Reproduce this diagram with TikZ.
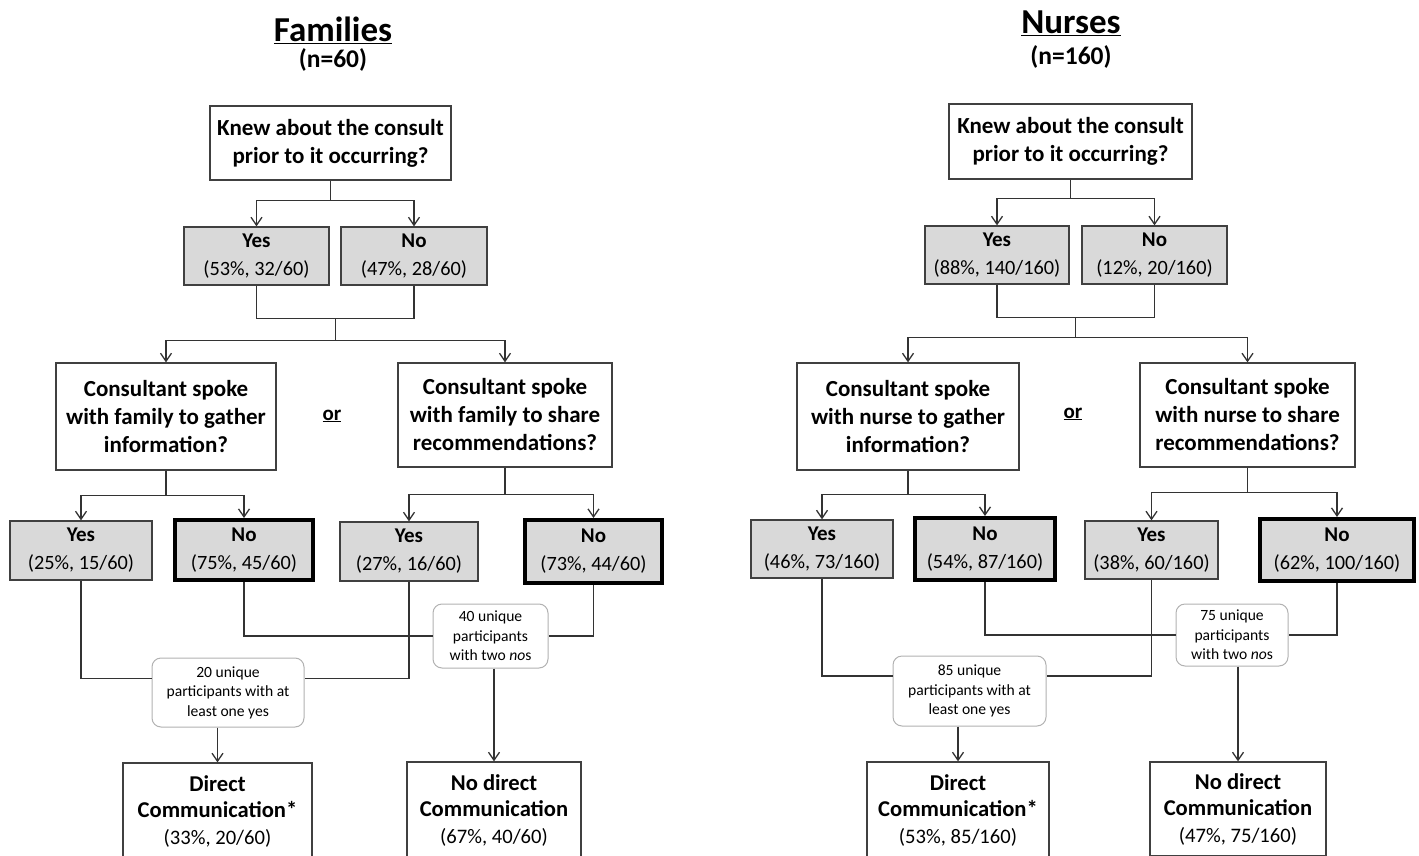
\documentclass[tikz,border=0pt]{standalone}
\usepackage{fontspec}
\setmainfont{Carlito}
\usetikzlibrary{positioning,arrows.meta,calc}

\newcommand{\ans}[2]{{\bfseries\fontsize{21}{24}\selectfont #1}\\[4pt](#2)}
\newcommand{\outtxt}[1]{\textbf{\fontsize{22.6}{26.5}\selectfont #1}}

\tikzset{
  box/.style={draw=black!75, line width=1.3pt, align=center, inner sep=2pt},
  qbox/.style={box, fill=white, font=\fontsize{23}{28}\selectfont\bfseries},
  ansbox/.style={box, fill=black!15, font=\fontsize{20.3}{24}\selectfont},
  nobox/.style={ansbox, draw=black, line width=4pt},
  sumbox/.style={draw=black!30, line width=1pt, rounded corners=9pt, fill=white, align=center, font=\fontsize{15.6}{19.5}\selectfont},
  outbox/.style={box, fill=white, font=\fontsize{20.6}{26.5}\selectfont},
  head/.style={font=\fontsize{35}{38}\selectfont\bfseries},
  subhead/.style={font=\fontsize{25.5}{28}\selectfont\bfseries},
  link/.style={draw=black!80, line width=1.3pt},
  arr/.style={link, -{Straight Barb[length=8pt,width=11pt]}},
}

\begin{document}
\begin{tikzpicture}[x=1pt, y=-1pt]

\useasboundingbox (0,0) rectangle (1419,856);
\clip (0,0) rectangle (1419,856);

% families
\node[head] (titleF) at (333,30) {\underline{Families}};
\node[subhead] (nF) at (333,60) {(n=60)};

\node[qbox, minimum width=241pt, minimum height=74pt] (knewF) at (330.5,143) {Knew about the consult\\prior to it occurring?};
\node[ansbox, minimum width=145pt, minimum height=58pt] (yesF) at (256.5,256) {\ans{Yes}{53\%, 32/60}};
\node[ansbox, minimum width=146pt, minimum height=58pt] (noF) at (414,256) {\ans{No}{47\%, 28/60}};

\node[qbox, minimum width=220pt, minimum height=107pt] (gatherF) at (166,416.5) {Consultant spoke\\with family to gather\\information?};
\node[qbox, minimum width=214pt, minimum height=104pt] (shareF) at (505,415) {Consultant spoke\\with family to share\\recommendations?};
\node[font=\fontsize{21}{24}\selectfont\bfseries] (orF) at (332,416) {\underline{or}};

\node[ansbox, minimum width=142pt, minimum height=59pt] (yes1F) at (81,550.5) {\ans{Yes}{25\%, 15/60}};
\node[nobox, minimum width=138pt, minimum height=60pt] (no1F) at (244,550) {\ans{No}{75\%, 45/60}};
\node[ansbox, minimum width=138pt, minimum height=59pt] (yes2F) at (409,551.5) {\ans{Yes}{27\%, 16/60}};
\node[nobox, minimum width=137pt, minimum height=63pt] (no2F) at (593.5,551.5) {\ans{No}{73\%, 44/60}};

\node[sumbox, minimum width=152pt, minimum height=69pt] (oneyesF) at (228,692.5) {20 unique\\participants with at\\least one yes};
\node[sumbox, minimum width=115pt, minimum height=64pt] (twonosF) at (490.5,636) {40 unique\\participants\\with two \textit{no}s};

\node[outbox, minimum width=189pt, minimum height=96pt] (directF) at (217.5,811) {\outtxt{Direct}\\\outtxt{Communication*}\\(33\%, 20/60)};
\node[outbox, minimum width=174pt, minimum height=96pt] (nodirectF) at (494,810) {\outtxt{No direct}\\\outtxt{Communication}\\(67\%, 40/60)};

\draw[arr] (knewF.south) -- ++(0,20) -| (yesF.north);
\draw[arr] (knewF.south) -- ++(0,20) -| (noF.north);
\draw[link] (yesF.south) -- ++(0,33) -| (noF.south);
\coordinate (jF) at ($(yesF.south)!.5!(noF.south)+(0,33)$);
\draw[arr] (jF) -- ++(0,22) -| (gatherF.north);
\draw[arr] (jF) -- ++(0,22) -| (shareF.north);
\draw[arr] (gatherF.south) -- ++(0,25) -| (yes1F.north);
\draw[arr] (gatherF.south) -- ++(0,25) -| (no1F.north);
\draw[arr] (shareF.south) -- ++(0,27) -| (yes2F.north);
\draw[arr] (shareF.south) -- ++(0,27) -| (no2F.north);
\draw[link] (no1F.south) |- (twonosF.west);
\draw[link] (no2F.south) |- (twonosF.east);
\draw[link] (yes1F.south) |- ([yshift=14pt]oneyesF.west);
\draw[link] (yes2F.south) |- ([yshift=14pt]oneyesF.east);
\draw[arr] (oneyesF.south -| directF.north) -- (directF.north);
\draw[arr] (twonosF.south -| nodirectF.north) -- (nodirectF.north);

% nurses
\node[head] (titleN) at (1071,23) {\underline{Nurses}};
\node[subhead] (nN) at (1071,57) {(n=160)};

\node[qbox, minimum width=243pt, minimum height=75pt] (knewN) at (1070.5,141.5) {Knew about the consult\\prior to it occurring?};
\node[ansbox, minimum width=144pt, minimum height=58pt] (yesN) at (997,255) {\ans{Yes}{88\%, 140/160}};
\node[ansbox, minimum width=145pt, minimum height=58pt] (noN) at (1154.5,255) {\ans{No}{12\%, 20/160}};

\node[qbox, minimum width=222pt, minimum height=107pt] (gatherN) at (908,416.5) {Consultant spoke\\with nurse to gather\\information?};
\node[qbox, minimum width=215pt, minimum height=104pt] (shareN) at (1247.5,415) {Consultant spoke\\with nurse to share\\recommendations?};
\node[font=\fontsize{21}{24}\selectfont\bfseries] (orN) at (1073,414) {\underline{or}};

\node[ansbox, minimum width=142pt, minimum height=58pt] (yes1N) at (822,549) {\ans{Yes}{46\%, 73/160}};
\node[nobox, minimum width=140pt, minimum height=62pt] (no1N) at (985,549) {\ans{No}{54\%, 87/160}};
\node[ansbox, minimum width=133pt, minimum height=58pt] (yes2N) at (1151.5,550) {\ans{Yes}{38\%, 60/160}};
\node[nobox, minimum width=154pt, minimum height=62pt] (no2N) at (1337,550) {\ans{No}{62\%, 100/160}};

\node[sumbox, minimum width=153pt, minimum height=70pt] (oneyesN) at (969.5,691) {85 unique\\participants with at\\least one yes};
\node[sumbox, minimum width=112pt, minimum height=62pt] (twonosN) at (1232,635) {75 unique\\participants\\with two \textit{no}s};

\node[outbox, minimum width=182pt, minimum height=96pt] (directN) at (958,810) {\outtxt{Direct}\\\outtxt{Communication*}\\(53\%, 85/160)};
\node[outbox, minimum width=176pt, minimum height=94pt] (nodirectN) at (1238,809) {\outtxt{No direct}\\\outtxt{Communication}\\(47\%, 75/160)};

\draw[arr] (knewN.south) -- ++(0,19) -| (yesN.north);
\draw[arr] (knewN.south) -- ++(0,19) -| (noN.north);
\draw[link] (yesN.south) -- ++(0,33) -| (noN.south);
\coordinate (jN) at ($(yesN.south)!.5!(noN.south)+(0,33)$);
\draw[arr] (jN) -- ++(0,20) -| (gatherN.north);
\draw[arr] (jN) -- ++(0,20) -| (shareN.north);
\draw[arr] (gatherN.south) -- ++(0,24) -| (yes1N.north);
\draw[arr] (gatherN.south) -- ++(0,24) -| (no1N.north);
\draw[arr] (shareN.south) -- ++(0,25) -| (yes2N.north);
\draw[arr] (shareN.south) -- ++(0,25) -| (no2N.north);
\draw[link] (no1N.south) |- (twonosN.west);
\draw[link] (no2N.south) |- (twonosN.east);
\draw[link] (yes1N.south) |- ([yshift=15pt]oneyesN.west);
\draw[link] (yes2N.south) |- ([yshift=15pt]oneyesN.east);
\draw[arr] (oneyesN.south -| directN.north) -- (directN.north);
\draw[arr] (twonosN.south -| nodirectN.north) -- (nodirectN.north);

\end{tikzpicture}
\end{document}
